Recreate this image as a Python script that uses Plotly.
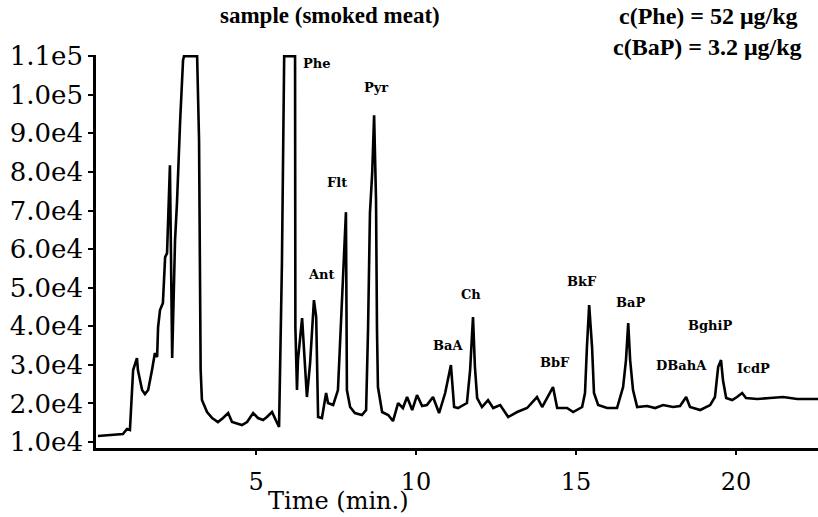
import plotly.graph_objects as go

# Retention time (min) and detector signal
time_min = [0.06, 0.84, 0.97, 1.06, 1.16, 1.28, 1.31, 1.44, 1.53, 1.63, 1.75, 1.84, 1.91, 1.94,
            2.00, 2.09, 2.16, 2.22, 2.31, 2.34, 2.38, 2.47, 2.53, 2.63, 2.72, 2.75, 3.16, 3.22,
            3.25, 3.27, 3.31, 3.47, 3.63, 3.81, 3.97, 4.13, 4.25, 4.56, 4.72, 4.91, 5.06, 5.22,
            5.34, 5.50, 5.66, 5.72, 5.81, 5.88, 6.22, 6.23, 6.28, 6.31, 6.44, 6.53, 6.59, 6.69,
            6.81, 6.88, 6.94, 7.06, 7.19, 7.25, 7.41, 7.56, 7.69, 7.81, 7.84, 7.94, 8.09, 8.31,
            8.44, 8.50, 8.56, 8.63, 8.69, 8.75, 8.78, 8.81, 8.94, 9.13, 9.28, 9.44, 9.59, 9.72,
            9.88, 10.03, 10.19, 10.34, 10.53, 10.72, 10.91, 11.09, 11.19, 11.31, 11.59, 11.69,
            11.78, 11.84, 11.91, 12.06, 12.25, 12.41, 12.63, 12.88, 13.16, 13.47, 13.78, 13.94,
            14.28, 14.41, 14.72, 14.91, 15.19, 15.28, 15.34, 15.41, 15.50, 15.56, 15.69, 15.97,
            16.28, 16.47, 16.56, 16.63, 16.69, 16.78, 16.91, 17.22, 17.47, 17.72, 18.03, 18.25,
            18.44, 18.56, 18.88, 19.19, 19.34, 19.44, 19.53, 19.59, 19.69, 19.88, 20.03, 20.19,
            20.31, 20.66, 21.06, 21.47, 21.91, 22.56]
signal = [11550, 12070, 13370, 13110, 28650, 31760, 28650, 23470, 22430, 23470, 28650, 33050, 32020, 39790,
          44190, 46000, 57920, 58950, 81740, 59730, 31760, 62320, 71900, 93400, 108940, 110000, 110000, 88220,
          42120, 28650, 20880, 17770, 16220, 15180, 16220, 17510, 15180, 14400, 15180, 17510, 16220, 15700,
          16480, 17770, 14920, 13890, 56360, 110000, 110000, 39790, 23470, 31240, 42120, 31240, 21660, 30460,
          46780, 42380, 16480, 16220, 22690, 20100, 19580, 23470, 49370, 69570, 23470, 19070, 17510, 16990,
          18290, 39010, 69310, 79670, 94690, 72680, 39010, 24250, 17770, 16990, 15440, 20100, 18810, 21660,
          18290, 22170, 19320, 19580, 21660, 17510, 22690, 29940, 19070, 18810, 20100, 28650,
          42380, 29430, 21400, 19070, 20880, 18810, 19580, 16480, 17770, 18810, 21660, 19070,
          24250, 18810, 18810, 17770, 19070, 22690, 34610, 45480, 34610, 22690, 19580, 18810,
          18810, 24250, 31240, 40820, 31240, 23470, 19070, 19320, 18810, 19580, 19070, 19320,
          21660, 19070, 18290, 19580, 21660, 29430, 31240, 26060, 21400, 20880, 21660, 22690,
          21400, 21140, 21400, 21660, 21140, 21140]

y_tick_values = [10000, 20000, 30000, 40000, 50000, 60000, 70000, 80000, 90000, 100000, 110000]
y_tick_labels = ["1.0e4", "2.0e4", "3.0e4", "4.0e4", "5.0e4", "6.0e4", "7.0e4", "8.0e4", "9.0e4", "1.0e5", "1.1e5"]
x_tick_values = [5, 10, 15, 20]

peak_names = ["Phe", "Pyr", "Flt", "Ant", "Ch", "BaA", "BbF", "BkF", "BaP", "DBahA", "BghiP", "IcdP"]
# label anchor points (time, signal)
peak_label_pos = [(6.91, 108160), (8.75, 101950), (7.53, 77340), (7.06, 53510), (11.72, 48330),
                  (11.0, 35120), (14.34, 30720), (15.19, 51700), (16.69, 46260), (18.31, 29940),
                  (19.19, 40300), (20.53, 29170)]

SERIF = "DejaVu Serif"
L, T, PW, PH = 96, 55, 722, 393


def px_x(p):
    return (p - L) / PW


def px_y(p):
    return 1 - (p - T) / PH


fig = go.Figure()
fig.add_trace(go.Scatter(x=time_min, y=signal, mode="lines",
                         line=dict(color="black", width=2.6), hoverinfo="skip",
                         showlegend=False))

annotations = []
for name, (tx, ty) in zip(peak_names, peak_label_pos):
    annotations.append(dict(x=tx, y=ty, xref="x", yref="y", text="<b>" + name + "</b>",
                            xanchor="center", yanchor="middle",
                            showarrow=False, font=dict(family=SERIF, size=13, color="black")))

annotations += [
    dict(x=px_x(330), y=px_y(16), xref="paper", yref="paper",
         text="<b>sample (smoked meat)</b>", showarrow=False, xanchor="center", yanchor="middle",
         font=dict(family="Liberation Serif", size=23, color="black")),
    dict(x=px_x(708), y=px_y(16), xref="paper", yref="paper",
         text="<b>c(Phe) = 52 μg/kg</b>", showarrow=False, xanchor="center", yanchor="middle",
         font=dict(family="Liberation Serif", size=24, color="black")),
    dict(x=px_x(707), y=px_y(47), xref="paper", yref="paper",
         text="<b>c(BaP) = 3.2 μg/kg</b>", showarrow=False, xanchor="center", yanchor="middle",
         font=dict(family="Liberation Serif", size=24, color="black")),
    dict(x=px_x(338), y=px_y(517), xref="paper", yref="paper",
         text="Time (min.)", showarrow=False, xanchor="center", yanchor="bottom",
         font=dict(family=SERIF, size=24, color="black")),
]

fig.update_layout(
    width=818, height=517,
    margin=dict(l=L, r=0, t=T, b=517 - T - PH),
    paper_bgcolor="white", plot_bgcolor="white",
    annotations=annotations,
    xaxis=dict(range=[0, 22.56], tickvals=x_tick_values, ticktext=[str(v) for v in x_tick_values],
               showgrid=False, zeroline=False, showline=True, linecolor="black", linewidth=2.5,
               ticks="outside", ticklen=4, tickwidth=2, tickcolor="black", ticklabelstandoff=6,
               tickfont=dict(family=SERIF, size=24, color="black")),
    yaxis=dict(range=[8450, 110300], tickvals=y_tick_values, ticktext=y_tick_labels,
               showgrid=False, zeroline=False, showline=True, linecolor="black", linewidth=2.5,
               ticks="outside", ticklen=5, tickwidth=2, tickcolor="black",
               tickfont=dict(family=SERIF, size=26, color="black")),
)

fig.write_html("out.html")
